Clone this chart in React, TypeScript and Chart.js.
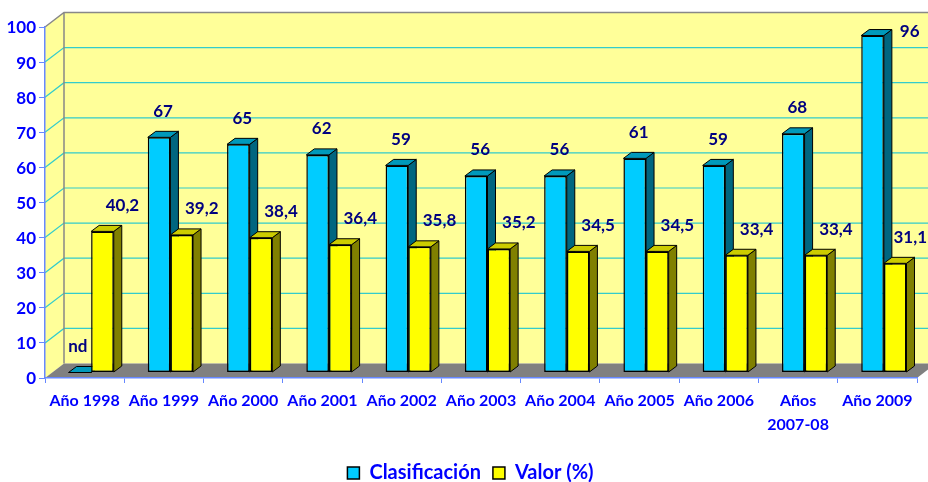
import React, { useEffect, useRef } from "react";
import { Chart, registerables } from "chart.js";

Chart.register(...registerables);

const categories: (string | string[])[] = [
  "Año 1998",
  "Año 1999",
  "Año 2000",
  "Año 2001",
  "Año 2002",
  "Año 2003",
  "Año 2004",
  "Año 2005",
  "Año 2006",
  ["Años", "2007-08"],
  "Año 2009",
];
const clasificacion: (number | null)[] = [null, 67, 65, 62, 59, 56, 56, 61, 59, 68, 96];
const valor: number[] = [40.2, 39.2, 38.4, 36.4, 35.8, 35.2, 34.5, 34.5, 33.4, 33.4, 31.1];
const seriesNames = ["Clasificación", "Valor (%)"];
const yMin = 0;
const yMax = 100;
const yStep = 10;

const WALL = { dx: 19, dy: 14.5 };
const SHIFT = { dx: 6.5, dy: 5.5 };
const DEPTH = { dx: 8, dy: 6 };
const LEGEND_NUDGE = 24;

const FONT = "Lato";
const BLUE_TEXT = "#0000FF";
const AXIS_BLUE = "#6688FF";

const faceColors = [
  { side: "#006680", top: "#0099BB" },
  { side: "#808000", top: "#CCCC00" },
];

const fmt = (v: number | null) => (v === null ? "nd" : Number.isInteger(v) ? String(v) : v.toFixed(1).replace(".", ","));

const threeD = {
  id: "threeD",
  afterLayout(chart: any) {
    if (chart.legend) chart.legend.left += LEGEND_NUDGE;
  },
  beforeDraw(chart: any) {
    const { ctx, chartArea } = chart;
    const ys = chart.scales.y;
    const L = chartArea.left;
    const R = chartArea.right;
    const T = chartArea.top;
    const B = chartArea.bottom;
    ctx.save();
    ctx.fillStyle = "#FFFF99";
    ctx.fillRect(L + WALL.dx, T - WALL.dy, R - L, B - T);
    ctx.beginPath();
    ctx.moveTo(L, T);
    ctx.lineTo(L + WALL.dx, T - WALL.dy);
    ctx.lineTo(L + WALL.dx, B - WALL.dy);
    ctx.lineTo(L, B);
    ctx.closePath();
    ctx.fill();
    ctx.strokeStyle = "#33CCCC";
    ctx.lineWidth = 1.2;
    for (let v = yMin + yStep; v < yMax; v += yStep) {
      const y = ys.getPixelForValue(v);
      ctx.beginPath();
      ctx.moveTo(L, y);
      ctx.lineTo(L + WALL.dx, y - WALL.dy);
      ctx.lineTo(R + WALL.dx, y - WALL.dy);
      ctx.stroke();
    }
    ctx.fillStyle = "#808080";
    ctx.beginPath();
    ctx.moveTo(L, B);
    ctx.lineTo(R, B);
    ctx.lineTo(R + WALL.dx, B - WALL.dy);
    ctx.lineTo(L + WALL.dx, B - WALL.dy);
    ctx.closePath();
    ctx.fill();
    ctx.strokeStyle = "#888888";
    ctx.lineWidth = 1.5;
    ctx.beginPath();
    ctx.moveTo(L, T);
    ctx.lineTo(L + WALL.dx, T - WALL.dy);
    ctx.lineTo(R + WALL.dx + 20, T - WALL.dy);
    ctx.moveTo(L + WALL.dx, T - WALL.dy);
    ctx.lineTo(L + WALL.dx, B - WALL.dy);
    ctx.stroke();
    ctx.restore();
  },
  beforeDatasetsDraw(chart: any) {
    const { ctx } = chart;
    ctx.save();
    ctx.translate(SHIFT.dx, -SHIFT.dy);
    const n = categories.length;
    for (let i = 0; i < n; i++) {
      for (let d = 0; d < 2; d++) {
        const bar = chart.getDatasetMeta(d).data[i];
        if (!bar) continue;
        const { x, y, base, width } = bar.getProps(["x", "y", "base", "width"], true);
        const l = x - width / 2;
        const r = x + width / 2;
        ctx.lineWidth = 1;
        ctx.strokeStyle = "#000000";
        ctx.lineJoin = "round";
        ctx.fillStyle = faceColors[d].side;
        ctx.beginPath();
        ctx.moveTo(r, y);
        ctx.lineTo(r + DEPTH.dx, y - DEPTH.dy);
        ctx.lineTo(r + DEPTH.dx, base - DEPTH.dy);
        ctx.lineTo(r, base);
        ctx.closePath();
        ctx.fill();
        ctx.stroke();
        ctx.fillStyle = faceColors[d].top;
        ctx.beginPath();
        ctx.moveTo(l, y);
        ctx.lineTo(l + DEPTH.dx, y - DEPTH.dy);
        ctx.lineTo(r + DEPTH.dx, y - DEPTH.dy);
        ctx.lineTo(r, y);
        ctx.closePath();
        ctx.fill();
        ctx.stroke();
      }
    }
  },
  afterDatasetsDraw(chart: any) {
    const { ctx, chartArea, width: cw } = chart;
    ctx.restore();
    ctx.save();
    ctx.font = `bold 17px ${FONT}`;
    ctx.fillStyle = "#000080";
    ctx.textBaseline = "middle";
    const wallTop = chartArea.top - WALL.dy;
    const series = [clasificacion, valor];
    for (let d = 0; d < 2; d++) {
      const meta = chart.getDatasetMeta(d);
      meta.data.forEach((bar: any, i: number) => {
        const { x, y, width } = bar.getProps(["x", "y", "width"], true);
        const value = series[d][i] as number | null;
        const text = fmt(value);
        const tw = ctx.measureText(text).width;
        const topFace = y - SHIFT.dy - DEPTH.dy;
        let cx = x + SHIFT.dx + DEPTH.dx / 2 + (d === 1 ? 16 : value === null ? -6 : 0);
        let cy = topFace - 20;
        if (cy - 8 < wallTop) {
          cx = x + width / 2 + SHIFT.dx + DEPTH.dx + 8 + tw / 2;
          cy = topFace + 2;
        }
        if (cx + tw / 2 > cw - 1) cx = cw - 1 - tw / 2;
        ctx.textAlign = "center";
        ctx.fillText(text, cx, cy);
      });
    }
    ctx.restore();
  },
};

export default function App() {
  const ref = useRef<HTMLCanvasElement | null>(null);
  useEffect(() => {
    document.body.style.margin = "0";
    const canvas = ref.current;
    if (!canvas) return;
    const chart = new Chart(canvas, {
      type: "bar",
      data: {
        labels: categories as any,
        datasets: [
          {
            label: seriesNames[0],
            data: clasificacion.map((v) => (v === null ? 0 : v)),
            backgroundColor: "#00CCFF",
            borderColor: "#000000",
            borderWidth: 1.5,
            borderSkipped: false,
            categoryPercentage: 0.571,
            barPercentage: 1.0,
            clip: false as any,
          },
          {
            label: seriesNames[1],
            data: valor,
            backgroundColor: "#FFFF00",
            borderColor: "#000000",
            borderWidth: 1.5,
            borderSkipped: false,
            categoryPercentage: 0.571,
            barPercentage: 1.0,
            clip: false as any,
          },
        ],
      },
      options: {
        responsive: false,
        animation: false,
        layout: { padding: { top: 27, right: 11, left: 0, bottom: -11 } },
        plugins: {
          tooltip: { enabled: false },
          legend: {
            position: "bottom",
            onClick: () => {},
            labels: {
              boxWidth: 12,
              boxHeight: 12,
              padding: 12,
              color: BLUE_TEXT,
              font: { family: FONT, size: 20, weight: "bold" },
            },
          },
        },
        scales: {
          x: {
            afterFit: (s: any) => {
              s.height = 73;
            },
            grid: {
              display: true,
              drawOnChartArea: false,
              drawTicks: true,
              tickLength: 5,
              color: AXIS_BLUE,
              offset: true,
            },
            border: { display: true, color: AXIS_BLUE, width: 1.5 },
            ticks: {
              color: BLUE_TEXT,
              padding: 6,
              maxRotation: 0,
              autoSkip: false,
              font: { family: FONT, size: 16, weight: "bold", lineHeight: 1.5 },
            },
          },
          y: {
            min: yMin,
            max: yMax,
            afterFit: (s: any) => {
              s.width = 45;
            },
            grid: {
              display: true,
              drawOnChartArea: false,
              drawTicks: true,
              tickLength: 6,
              color: AXIS_BLUE,
            },
            border: { display: true, color: AXIS_BLUE, width: 1.5 },
            ticks: {
              stepSize: yStep,
              color: BLUE_TEXT,
              padding: 3,
              labelOffset: 1,
              font: { family: FONT, size: 17, weight: "bold" },
            },
          },
        },
      },
      plugins: [threeD],
    });
    return () => chart.destroy();
  }, []);
  return (
    <div style={{ width: 928, height: 482, background: "#FFFFFF" }}>
      <canvas ref={ref} width={928} height={482} style={{ display: "block", width: 928, height: 482 }} />
    </div>
  );
}
